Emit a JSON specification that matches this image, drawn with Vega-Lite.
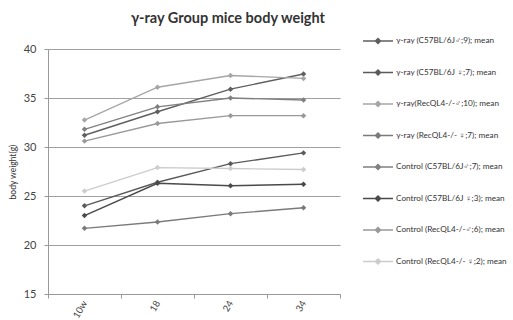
{
  "$schema": "https://vega.github.io/schema/vega-lite/v6.json",
  "width": 292,
  "height": 245,
  "autosize": {"type": "none"},
  "padding": {"left": 48, "top": 49, "right": 173, "bottom": 26},
  "background": "white",
  "title": {
    "text": "γ-ray Group mice body weight",
    "font": "Lato",
    "fontSize": 14.5,
    "fontWeight": "bold",
    "color": "#333333",
    "anchor": "middle",
    "dx": 34,
    "baseline": "alphabetic",
    "offset": -12
  },
  "config": {
    "view": {"stroke": null},
    "font": "Lato"
  },
  "data": {
    "values": [
      {"series": "γ-ray (C57BL/6J♂;9); mean", "week": "10w", "weight": 31.2},
      {"series": "γ-ray (C57BL/6J♂;9); mean", "week": "18", "weight": 33.6},
      {"series": "γ-ray (C57BL/6J♂;9); mean", "week": "24", "weight": 35.9},
      {"series": "γ-ray (C57BL/6J♂;9); mean", "week": "34", "weight": 37.45},
      {"series": "γ-ray (C57BL/6J ♀;7); mean", "week": "10w", "weight": 24.0},
      {"series": "γ-ray (C57BL/6J ♀;7); mean", "week": "18", "weight": 26.4},
      {"series": "γ-ray (C57BL/6J ♀;7); mean", "week": "24", "weight": 28.3},
      {"series": "γ-ray (C57BL/6J ♀;7); mean", "week": "34", "weight": 29.4},
      {"series": "γ-ray(RecQL4-/-♂;10); mean", "week": "10w", "weight": 32.75},
      {"series": "γ-ray(RecQL4-/-♂;10); mean", "week": "18", "weight": 36.1},
      {"series": "γ-ray(RecQL4-/-♂;10); mean", "week": "24", "weight": 37.3},
      {"series": "γ-ray(RecQL4-/-♂;10); mean", "week": "34", "weight": 37.0},
      {"series": "γ-ray (RecQL4-/- ♀;7); mean", "week": "10w", "weight": 21.7},
      {"series": "γ-ray (RecQL4-/- ♀;7); mean", "week": "18", "weight": 22.35},
      {"series": "γ-ray (RecQL4-/- ♀;7); mean", "week": "24", "weight": 23.2},
      {"series": "γ-ray (RecQL4-/- ♀;7); mean", "week": "34", "weight": 23.8},
      {"series": "Control (C57BL/6J♂;7); mean", "week": "10w", "weight": 31.8},
      {"series": "Control (C57BL/6J♂;7); mean", "week": "18", "weight": 34.1},
      {"series": "Control (C57BL/6J♂;7); mean", "week": "24", "weight": 35.0},
      {"series": "Control (C57BL/6J♂;7); mean", "week": "34", "weight": 34.8},
      {"series": "Control (C57BL/6J ♀;3); mean", "week": "10w", "weight": 23.0},
      {"series": "Control (C57BL/6J ♀;3); mean", "week": "18", "weight": 26.3},
      {"series": "Control (C57BL/6J ♀;3); mean", "week": "24", "weight": 26.05},
      {"series": "Control (C57BL/6J ♀;3); mean", "week": "34", "weight": 26.2},
      {"series": "Control (RecQL4-/-♂;6); mean", "week": "10w", "weight": 30.6},
      {"series": "Control (RecQL4-/-♂;6); mean", "week": "18", "weight": 32.4},
      {"series": "Control (RecQL4-/-♂;6); mean", "week": "24", "weight": 33.2},
      {"series": "Control (RecQL4-/-♂;6); mean", "week": "34", "weight": 33.2},
      {"series": "Control (RecQL4-/- ♀;2); mean", "week": "10w", "weight": 25.5},
      {"series": "Control (RecQL4-/- ♀;2); mean", "week": "18", "weight": 27.9},
      {"series": "Control (RecQL4-/- ♀;2); mean", "week": "24", "weight": 27.8},
      {"series": "Control (RecQL4-/- ♀;2); mean", "week": "34", "weight": 27.7}
    ]
  },
  "mark": {"type": "line", "strokeWidth": 1.4, "point": {"shape": "diamond", "size": 30, "filled": true}},
  "encoding": {
    "x": {
      "field": "week",
      "type": "ordinal",
      "sort": ["10w", "18", "24", "34"],
      "scale": {"paddingInner": 0, "paddingOuter": 0},
      "axis": {
        "title": null,
        "tickBand": "extent",
        "labelAngle": -60,
        "labelAlign": "right",
        "labelBaseline": "middle",
        "labelFontSize": 9.5,
        "labelColor": "#444444",
        "labelPadding": 3,
        "domainColor": "#999999",
        "tickColor": "#999999",
        "tickSize": 4,
        "grid": false
      }
    },
    "y": {
      "field": "weight",
      "type": "quantitative",
      "scale": {"domain": [15, 40], "nice": false},
      "axis": {
        "title": "body weight(g)",
        "titleFontSize": 8.5,
        "titleFontWeight": "normal",
        "titleColor": "#333333",
        "titlePadding": 6,
        "values": [15, 20, 25, 30, 35, 40],
        "labelFontSize": 11,
        "labelColor": "#444444",
        "labelPadding": 8,
        "tickSize": 4,
        "tickColor": "#999999",
        "domainColor": "#999999",
        "gridColor": "#a0a0a0",
        "gridWidth": 1.2
      }
    },
    "color": {
      "field": "series",
      "type": "nominal",
      "scale": {
        "domain": [
          "γ-ray (C57BL/6J♂;9); mean",
          "γ-ray (C57BL/6J ♀;7); mean",
          "γ-ray(RecQL4-/-♂;10); mean",
          "γ-ray (RecQL4-/- ♀;7); mean",
          "Control (C57BL/6J♂;7); mean",
          "Control (C57BL/6J ♀;3); mean",
          "Control (RecQL4-/-♂;6); mean",
          "Control (RecQL4-/- ♀;2); mean"
        ],
        "range": ["#5f5f5f", "#5a5a5a", "#a6a6a6", "#7a7a7a", "#808080", "#4a4a4a", "#999999", "#cccccc"]
      },
      "legend": {
        "title": null,
        "orient": "none",
        "legendX": 314,
        "legendY": -24,
        "symbolType": "M-1,0H1M-0.17,0L0,-0.17L0.17,0L0,0.17Z",
        "symbolSize": 900,
        "symbolStrokeWidth": 1.5,
        "labelFontSize": 8.2,
        "labelColor": "#333333",
        "labelLimit": 200,
        "labelOffset": 2,
        "rowPadding": 9.5
      }
    }
  }
}
